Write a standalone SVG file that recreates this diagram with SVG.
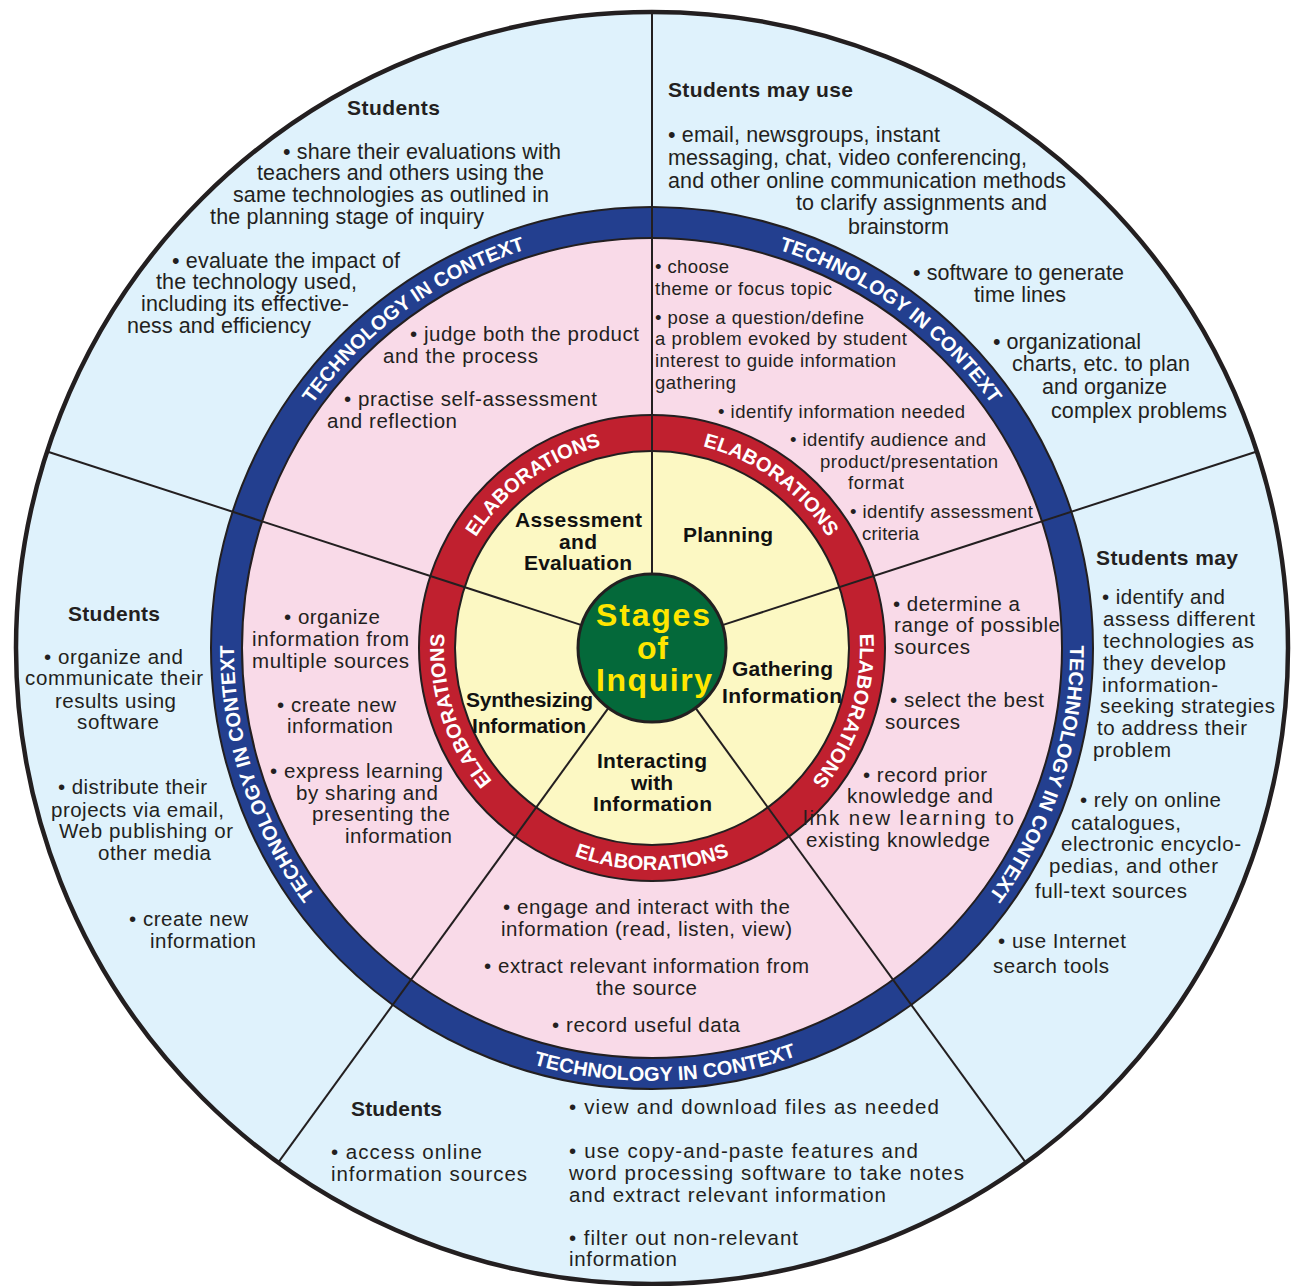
<svg xmlns="http://www.w3.org/2000/svg" width="1294" height="1286" viewBox="0 0 1294 1286">
<style>
text { font-family: "Liberation Sans", Arial, Helvetica, sans-serif; fill: #231f20; }
.t { font-size: 20.5px; }
.l { font-size: 21.5px; }
.s { font-size: 18.5px; }
.h { font-size: 21px; font-weight: bold; }
.st { font-size: 21px; font-weight: bold; fill: #111; }
.ctr { font-size: 32px; font-weight: bold; fill: #ffe600; }
.tech { font-size: 20px; font-weight: bold; fill: #ffffff; }
.elab { font-size: 20px; font-weight: bold; fill: #ffffff; }
.ln { stroke: #231f20; stroke-width: 2; fill: none; }
.edge { stroke: #231f20; stroke-width: 2; }
</style>
<defs>
<path id="tA" d="M254.46,518.83 A418,418 0 0 1 652,230"/>
<path id="tP" d="M652,230 A418,418 0 0 1 1049.54,518.83"/>
<path id="tG" d="M1049.54,518.83 A418,418 0 0 1 897.70,986.17"/>
<path id="tS" d="M406.30,986.17 A418,418 0 0 1 254.46,518.83"/>
<path id="tI" d="M397.49,998.31 A433,433 0 0 0 906.51,998.31"/>
<path id="eA" d="M454.18,583.72 A208,208 0 0 1 652,440"/>
<path id="eP" d="M652,440 A208,208 0 0 1 849.82,583.72"/>
<path id="eG" d="M849.82,583.72 A208,208 0 0 1 774.26,816.28"/>
<path id="eS" d="M529.74,816.28 A208,208 0 0 1 454.18,583.72"/>
<path id="eI" d="M521.51,827.60 A222,222 0 0 0 782.49,827.60"/>
</defs>

<g id="background">
<circle cx="652" cy="648" r="636" fill="#dff2fc" stroke="#231f20" stroke-width="4.5"/>
<circle cx="652" cy="648" r="441" fill="#233f8f" class="edge"/>
<circle cx="652" cy="648" r="410" fill="#f9dae8" class="edge"/>
<circle cx="652" cy="648" r="233" fill="#c0202f" class="edge"/>
<circle cx="652" cy="648" r="197" fill="#fcf8c3" class="edge"/>
</g>

<g id="connectors">
<line class="ln" x1="652" y1="574" x2="652" y2="12"/>
<line class="ln" x1="722.38" y1="625.13" x2="1256.87" y2="451.46"/>
<line class="ln" x1="695.50" y1="707.87" x2="1025.83" y2="1162.54"/>
<line class="ln" x1="608.50" y1="707.87" x2="278.17" y2="1162.54"/>
<line class="ln" x1="581.62" y1="625.13" x2="47.13" y2="451.46"/>
</g>

<g id="center">
<circle cx="652" cy="648" r="74" fill="#04693a" stroke="#231f20" stroke-width="3"/>
<text class="ctr" x="596" y="626" textLength="114">Stages</text>
<text class="ctr" x="637" y="659" textLength="31">of</text>
<text class="ctr" x="596" y="691" textLength="116">Inquiry</text>
</g>

<g id="assessment">
<text class="tech"><textPath href="#tA" startOffset="50%" text-anchor="middle">TECHNOLOGY IN CONTEXT</textPath></text>
<text class="elab"><textPath href="#eA" startOffset="50%" text-anchor="middle">ELABORATIONS</textPath></text>
<text class="st" x="515" y="527" textLength="127">Assessment</text>
<text class="st" x="559" y="549" textLength="38">and</text>
<text class="st" x="524" y="570" textLength="108">Evaluation</text>
<text class="t" x="410" y="341" textLength="229">• judge both the product</text>
<text class="t" x="383" y="363" textLength="155">and the process</text>
<text class="t" x="344" y="406" textLength="253">• practise self-assessment</text>
<text class="t" x="327" y="428" textLength="130">and reflection</text>
<text class="h" x="347" y="115" textLength="93">Students</text>
<text class="l" x="283" y="159" textLength="278">• share their evaluations with</text>
<text class="l" x="257" y="180" textLength="287">teachers and others using the</text>
<text class="l" x="233" y="202" textLength="316">same technologies as outlined in</text>
<text class="l" x="210" y="224" textLength="274">the planning stage of inquiry</text>
<text class="l" x="172" y="268" textLength="228">• evaluate the impact of</text>
<text class="l" x="156" y="289" textLength="201">the technology used,</text>
<text class="l" x="141" y="311" textLength="208">including its effective-</text>
<text class="l" x="127" y="333" textLength="184">ness and efficiency</text>
</g>

<g id="planning">
<text class="tech"><textPath href="#tP" startOffset="50%" text-anchor="middle">TECHNOLOGY IN CONTEXT</textPath></text>
<text class="elab"><textPath href="#eP" startOffset="50%" text-anchor="middle">ELABORATIONS</textPath></text>
<text class="st" x="683" y="542" textLength="90">Planning</text>
<text class="s" x="655" y="273" textLength="74">• choose</text>
<text class="s" x="655" y="295" textLength="177">theme or focus topic</text>
<text class="s" x="655" y="324" textLength="209">• pose a question/define</text>
<text class="s" x="655" y="345" textLength="252">a problem evoked by student</text>
<text class="s" x="655" y="367" textLength="241">interest to guide information</text>
<text class="s" x="655" y="389" textLength="81">gathering</text>
<text class="s" x="718" y="418" textLength="247">• identify information needed</text>
<text class="s" x="790" y="446" textLength="196">• identify audience and</text>
<text class="s" x="820" y="468" textLength="178">product/presentation</text>
<text class="s" x="848" y="489" textLength="56">format</text>
<text class="s" x="850" y="518" textLength="183">• identify assessment</text>
<text class="s" x="862" y="540" textLength="57">criteria</text>
<text class="h" x="668" y="97" textLength="185">Students may use</text>
<text class="l" x="668" y="142" textLength="272">• email, newsgroups, instant</text>
<text class="l" x="668" y="165" textLength="359">messaging, chat, video conferencing,</text>
<text class="l" x="668" y="188" textLength="398">and other online communication methods</text>
<text class="l" x="796" y="210" textLength="251">to clarify assignments and</text>
<text class="l" x="848" y="234" textLength="101">brainstorm</text>
<text class="l" x="913" y="280" textLength="211">• software to generate</text>
<text class="l" x="974" y="302" textLength="92">time lines</text>
<text class="l" x="993" y="349" textLength="148">• organizational</text>
<text class="l" x="1012" y="371" textLength="178">charts, etc. to plan</text>
<text class="l" x="1042" y="394" textLength="125">and organize</text>
<text class="l" x="1051" y="418" textLength="176">complex problems</text>
</g>

<g id="gathering">
<text class="tech"><textPath href="#tG" startOffset="50%" text-anchor="middle">TECHNOLOGY IN CONTEXT</textPath></text>
<text class="elab"><textPath href="#eG" startOffset="50%" text-anchor="middle">ELABORATIONS</textPath></text>
<text class="st" x="732" y="676" textLength="101">Gathering</text>
<text class="st" x="722" y="703" textLength="120">Information</text>
<text class="t" x="893" y="611" textLength="127">• determine a</text>
<text class="t" x="894" y="632" textLength="166">range of possible</text>
<text class="t" x="894" y="654" textLength="76">sources</text>
<text class="t" x="890" y="707" textLength="154">• select the best</text>
<text class="t" x="885" y="729" textLength="75">sources</text>
<text class="t" x="863" y="782" textLength="124">• record prior</text>
<text class="t" x="847" y="803" textLength="146">knowledge and</text>
<text class="t" x="803" y="825" textLength="211">link new learning to</text>
<text class="t" x="806" y="847" textLength="184">existing knowledge</text>
<text class="h" x="1096" y="565" textLength="142">Students may</text>
<text class="t" x="1102" y="604" textLength="123">• identify and</text>
<text class="t" x="1103" y="626" textLength="152">assess different</text>
<text class="t" x="1103" y="648" textLength="151">technologies as</text>
<text class="t" x="1103" y="670" textLength="123">they develop</text>
<text class="t" x="1102" y="692" textLength="116">information-</text>
<text class="t" x="1100" y="713" textLength="175">seeking strategies</text>
<text class="t" x="1097" y="735" textLength="150">to address their</text>
<text class="t" x="1093" y="757" textLength="78">problem</text>
<text class="t" x="1080" y="807" textLength="141">• rely on online</text>
<text class="t" x="1071" y="830" textLength="110">catalogues,</text>
<text class="t" x="1061" y="851" textLength="180">electronic encyclo-</text>
<text class="t" x="1049" y="873" textLength="169">pedias, and other</text>
<text class="t" x="1035" y="898" textLength="152">full-text sources</text>
<text class="t" x="998" y="948" textLength="128">• use Internet</text>
<text class="t" x="993" y="973" textLength="116">search tools</text>
</g>

<g id="interacting">
<text class="tech"><textPath href="#tI" startOffset="52.5%" text-anchor="middle">TECHNOLOGY IN CONTEXT</textPath></text>
<text class="elab"><textPath href="#eI" startOffset="50%" text-anchor="middle">ELABORATIONS</textPath></text>
<text class="st" x="597" y="768" textLength="110">Interacting</text>
<text class="st" x="631" y="790" textLength="42">with</text>
<text class="st" x="593" y="811" textLength="119">Information</text>
<text class="t" x="503" y="914" textLength="287">• engage and interact with the</text>
<text class="t" x="501" y="936" textLength="291">information (read, listen, view)</text>
<text class="t" x="484" y="973" textLength="325">• extract relevant information from</text>
<text class="t" x="596" y="995" textLength="101">the source</text>
<text class="t" x="552" y="1032" textLength="188">• record useful data</text>
<text class="h" x="351" y="1116" textLength="91">Students</text>
<text class="t" x="331" y="1159" textLength="151">• access online</text>
<text class="t" x="331" y="1181" textLength="196">information sources</text>
<text class="t" x="569" y="1114" textLength="370">• view and download files as needed</text>
<text class="t" x="569" y="1158" textLength="349">• use copy-and-paste features and</text>
<text class="t" x="569" y="1180" textLength="395">word processing software to take notes</text>
<text class="t" x="569" y="1202" textLength="317">and extract relevant information</text>
<text class="t" x="569" y="1245" textLength="229">• filter out non-relevant</text>
<text class="t" x="569" y="1266" textLength="108">information</text>
</g>

<g id="synthesizing">
<text class="tech"><textPath href="#tS" startOffset="50%" text-anchor="middle">TECHNOLOGY IN CONTEXT</textPath></text>
<text class="elab"><textPath href="#eS" startOffset="50%" text-anchor="middle">ELABORATIONS</textPath></text>
<text class="st" x="466" y="707" textLength="127">Synthesizing</text>
<text class="st" x="472" y="733" textLength="114">Information</text>
<text class="t" x="284" y="624" textLength="96">• organize</text>
<text class="t" x="252" y="646" textLength="157">information from</text>
<text class="t" x="252" y="668" textLength="157">multiple sources</text>
<text class="t" x="277" y="712" textLength="119">• create new</text>
<text class="t" x="287" y="733" textLength="106">information</text>
<text class="t" x="270" y="778" textLength="173">• express learning</text>
<text class="t" x="296" y="800" textLength="142">by sharing and</text>
<text class="t" x="312" y="821" textLength="138">presenting the</text>
<text class="t" x="345" y="843" textLength="107">information</text>
<text class="h" x="68" y="621" textLength="92">Students</text>
<text class="t" x="44" y="664" textLength="139">• organize and</text>
<text class="t" x="25" y="685" textLength="178">communicate their</text>
<text class="t" x="55" y="708" textLength="121">results using</text>
<text class="t" x="77" y="729" textLength="82">software</text>
<text class="t" x="58" y="794" textLength="149">• distribute their</text>
<text class="t" x="51" y="817" textLength="173">projects via email,</text>
<text class="t" x="59" y="838" textLength="174">Web publishing or</text>
<text class="t" x="98" y="860" textLength="113">other media</text>
<text class="t" x="129" y="926" textLength="119">• create new</text>
<text class="t" x="150" y="948" textLength="106">information</text>
</g>
</svg>
